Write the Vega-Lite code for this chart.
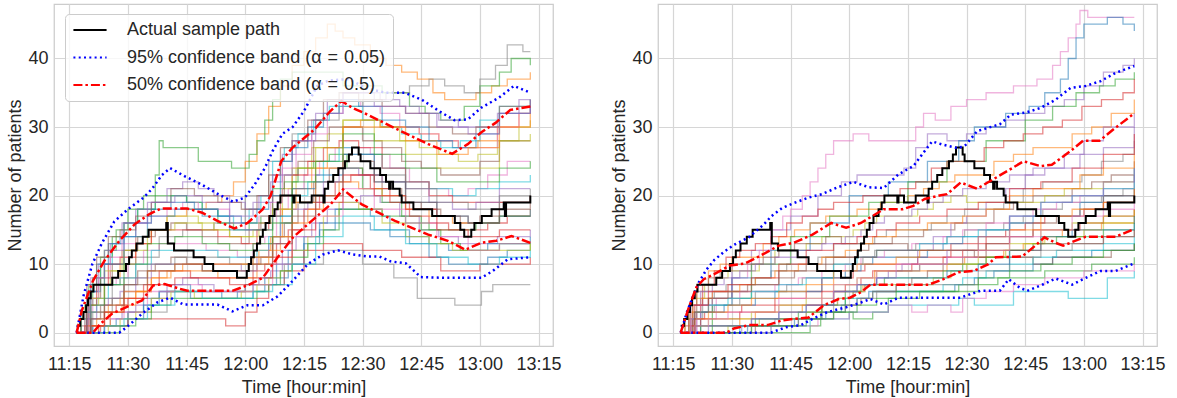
{
"$schema": "https://vega.github.io/schema/vega-lite/v6.json",
"background": "white",
"padding": {"left": 6, "top": 3, "right": 5, "bottom": 4},
"spacing": 48,
"config": {
 "font": "Liberation Sans",
 "view": {"stroke": "#cccccc", "strokeWidth": 1.25},
 "axis": {"labelFont": "Liberation Sans", "labelFontSize": 18, "labelColor": "#262626", "titleFont": "Liberation Sans", "titleFontSize": 18, "titleColor": "#262626", "titleFontWeight": "normal", "gridColor": "#d6d6d6", "gridWidth": 1.2, "domain": false, "ticks": false, "tickSize": 0, "labelPadding": 6},
 "axisX": {"titlePadding": 5, "labelPadding": 9, "labelFlush": false, "labelOverlap": false},
 "axisY": {"titlePadding": 3, "labelFlush": false}
},
"resolve": {"scale": {"color": "independent", "strokeDash": "independent", "stroke": "independent"}, "legend": {"color": "independent", "strokeDash": "independent"}},
"datasets": {
"actual": [
{"s":"act","t":676.9,"v":1},{"s":"act","t":677.8,"v":2},{"s":"act","t":678.6,"v":3},{"s":"act","t":679.3,"v":4},{"s":"act","t":679.8,"v":5},{"s":"act","t":680.5,"v":6},{"s":"act","t":681.2,"v":7},{"s":"act","t":686,"v":8},{"s":"act","t":687.5,"v":9},{"s":"act","t":689.5,"v":10},{"s":"act","t":690.3,"v":11},{"s":"act","t":691,"v":12},{"s":"act","t":692.2,"v":13},{"s":"act","t":693.8,"v":14},{"s":"act","t":695.3,"v":15},{"s":"act","t":699.8,"v":16},{"s":"act","t":700.2,"v":13},{"s":"act","t":701.8,"v":12},{"s":"act","t":706.8,"v":11},{"s":"act","t":709.6,"v":10},{"s":"act","t":711.8,"v":9},{"s":"act","t":717.9,"v":8},{"s":"act","t":720.4,"v":9},{"s":"act","t":720.9,"v":10},{"s":"act","t":721.5,"v":11},{"s":"act","t":722.2,"v":12},{"s":"act","t":723,"v":13},{"s":"act","t":723.8,"v":14},{"s":"act","t":724.5,"v":15},{"s":"act","t":725.2,"v":16},{"s":"act","t":726.2,"v":17},{"s":"act","t":727.5,"v":18},{"s":"act","t":728.3,"v":19},{"s":"act","t":729,"v":20},{"s":"act","t":732.3,"v":19},{"s":"act","t":732.6,"v":20},{"s":"act","t":734,"v":19},{"s":"act","t":737,"v":20},{"s":"act","t":740,"v":19},{"s":"act","t":740.3,"v":21},{"s":"act","t":741.2,"v":22},{"s":"act","t":742.5,"v":23},{"s":"act","t":743.8,"v":24},{"s":"act","t":745.5,"v":25},{"s":"act","t":746.5,"v":26},{"s":"act","t":747.3,"v":27},{"s":"act","t":749,"v":26},{"s":"act","t":749.5,"v":25},{"s":"act","t":752,"v":24},{"s":"act","t":754.5,"v":23},{"s":"act","t":756,"v":22},{"s":"act","t":756.8,"v":21},{"s":"act","t":757.2,"v":22},{"s":"act","t":757.8,"v":21},{"s":"act","t":759.5,"v":20},{"s":"act","t":760,"v":19},{"s":"act","t":763,"v":18},{"s":"act","t":767.8,"v":17},{"s":"act","t":773.6,"v":16},{"s":"act","t":775,"v":15},{"s":"act","t":776,"v":14},{"s":"act","t":777.8,"v":15},{"s":"act","t":778.6,"v":16},{"s":"act","t":780.5,"v":17},{"s":"act","t":783,"v":18},{"s":"act","t":786.1,"v":19},{"s":"act","t":786.4,"v":17},{"s":"act","t":786.7,"v":19},{"s":"act","t":792.9,"v":20}
],
"bands": [
{"g":"L","s":"95","b":"u","t":676.9,"v":0},{"g":"L","s":"95","b":"u","t":678.7,"v":5.5},{"g":"L","s":"95","b":"u","t":680.9,"v":10},{"g":"L","s":"95","b":"u","t":683.3,"v":13},{"g":"L","s":"95","b":"u","t":686.5,"v":16.2},{"g":"L","s":"95","b":"u","t":690,"v":18},{"g":"L","s":"95","b":"u","t":694,"v":19.7},{"g":"L","s":"95","b":"u","t":696.2,"v":21},{"g":"L","s":"95","b":"u","t":698.7,"v":23},{"g":"L","s":"95","b":"u","t":700.8,"v":24},{"g":"L","s":"95","b":"u","t":704.6,"v":22.8},{"g":"L","s":"95","b":"u","t":708.9,"v":21.6},{"g":"L","s":"95","b":"u","t":713.1,"v":20.2},{"g":"L","s":"95","b":"u","t":716.9,"v":19.1},{"g":"L","s":"95","b":"u","t":719.9,"v":19.7},{"g":"L","s":"95","b":"u","t":722.4,"v":21.6},{"g":"L","s":"95","b":"u","t":725,"v":24},{"g":"L","s":"95","b":"u","t":727,"v":26.5},{"g":"L","s":"95","b":"u","t":729.5,"v":29},{"g":"L","s":"95","b":"u","t":732.1,"v":30},{"g":"L","s":"95","b":"u","t":735,"v":32.3},{"g":"L","s":"95","b":"u","t":738.4,"v":36},{"g":"L","s":"95","b":"u","t":741.4,"v":36.8},{"g":"L","s":"95","b":"u","t":746.4,"v":37},{"g":"L","s":"95","b":"u","t":751.3,"v":35.6},{"g":"L","s":"95","b":"u","t":756,"v":35},{"g":"L","s":"95","b":"u","t":760.8,"v":35},{"g":"L","s":"95","b":"u","t":765.1,"v":34},{"g":"L","s":"95","b":"u","t":770.2,"v":32.1},{"g":"L","s":"95","b":"u","t":773.5,"v":31},{"g":"L","s":"95","b":"u","t":776.9,"v":31.1},{"g":"L","s":"95","b":"u","t":780.3,"v":32.8},{"g":"L","s":"95","b":"u","t":784.9,"v":34.3},{"g":"L","s":"95","b":"u","t":788.7,"v":36},{"g":"L","s":"95","b":"u","t":792.9,"v":35},
{"g":"L","s":"95","b":"l","t":676.9,"v":0},{"g":"L","s":"95","b":"l","t":687.8,"v":0},{"g":"L","s":"95","b":"l","t":689.7,"v":0.8},{"g":"L","s":"95","b":"l","t":693.6,"v":2.75},{"g":"L","s":"95","b":"l","t":697.5,"v":4.4},{"g":"L","s":"95","b":"l","t":700.8,"v":5.1},{"g":"L","s":"95","b":"l","t":704.2,"v":4.1},{"g":"L","s":"95","b":"l","t":712.9,"v":4.1},{"g":"L","s":"95","b":"l","t":716.7,"v":3.1},{"g":"L","s":"95","b":"l","t":720.6,"v":4},{"g":"L","s":"95","b":"l","t":724.5,"v":4},{"g":"L","s":"95","b":"l","t":728.3,"v":5.3},{"g":"L","s":"95","b":"l","t":732.2,"v":7.6},{"g":"L","s":"95","b":"l","t":736,"v":10},{"g":"L","s":"95","b":"l","t":739.9,"v":11.4},{"g":"L","s":"95","b":"l","t":743.7,"v":12},{"g":"L","s":"95","b":"l","t":747.6,"v":11.4},{"g":"L","s":"95","b":"l","t":751.4,"v":11.1},{"g":"L","s":"95","b":"l","t":754.3,"v":11.1},{"g":"L","s":"95","b":"l","t":757.2,"v":10.4},{"g":"L","s":"95","b":"l","t":761.1,"v":10.1},{"g":"L","s":"95","b":"l","t":764.9,"v":8.1},{"g":"L","s":"95","b":"l","t":770.7,"v":8},{"g":"L","s":"95","b":"l","t":780.4,"v":8},{"g":"L","s":"95","b":"l","t":783.3,"v":9},{"g":"L","s":"95","b":"l","t":787.1,"v":10.7},{"g":"L","s":"95","b":"l","t":792.9,"v":11},
{"g":"L","s":"50","b":"u","t":676.9,"v":0},{"g":"L","s":"50","b":"u","t":678.2,"v":3.2},{"g":"L","s":"50","b":"u","t":681.1,"v":7.6},{"g":"L","s":"50","b":"u","t":684,"v":10.5},{"g":"L","s":"50","b":"u","t":687.8,"v":13.4},{"g":"L","s":"50","b":"u","t":691.7,"v":15.8},{"g":"L","s":"50","b":"u","t":695.5,"v":17.3},{"g":"L","s":"50","b":"u","t":698.4,"v":18.1},{"g":"L","s":"50","b":"u","t":705.2,"v":18.1},{"g":"L","s":"50","b":"u","t":709,"v":17.5},{"g":"L","s":"50","b":"u","t":712.9,"v":16.3},{"g":"L","s":"50","b":"u","t":717.2,"v":15.2},{"g":"L","s":"50","b":"u","t":720.6,"v":16},{"g":"L","s":"50","b":"u","t":724.5,"v":18},{"g":"L","s":"50","b":"u","t":726.5,"v":20},{"g":"L","s":"50","b":"u","t":729.2,"v":25},{"g":"L","s":"50","b":"u","t":732.1,"v":27},{"g":"L","s":"50","b":"u","t":737.8,"v":29.7},{"g":"L","s":"50","b":"u","t":741.7,"v":32.3},{"g":"L","s":"50","b":"u","t":744.6,"v":33.8},{"g":"L","s":"50","b":"u","t":747.4,"v":32.8},{"g":"L","s":"50","b":"u","t":751.3,"v":31.8},{"g":"L","s":"50","b":"u","t":760.9,"v":29.1},{"g":"L","s":"50","b":"u","t":766.8,"v":27.5},{"g":"L","s":"50","b":"u","t":772.9,"v":26.1},{"g":"L","s":"50","b":"u","t":776.9,"v":27.5},{"g":"L","s":"50","b":"u","t":780.3,"v":29.2},{"g":"L","s":"50","b":"u","t":784,"v":30.6},{"g":"L","s":"50","b":"u","t":787.8,"v":32.5},{"g":"L","s":"50","b":"u","t":792.9,"v":33},
{"g":"L","s":"50","b":"l","t":676.9,"v":0},{"g":"L","s":"50","b":"l","t":681.1,"v":0},{"g":"L","s":"50","b":"l","t":683,"v":1.3},{"g":"L","s":"50","b":"l","t":685.9,"v":2.75},{"g":"L","s":"50","b":"l","t":690.7,"v":4},{"g":"L","s":"50","b":"l","t":693.6,"v":4.7},{"g":"L","s":"50","b":"l","t":696.5,"v":6.9},{"g":"L","s":"50","b":"l","t":699.4,"v":7.1},{"g":"L","s":"50","b":"l","t":703.2,"v":6.4},{"g":"L","s":"50","b":"l","t":705.2,"v":6.1},{"g":"L","s":"50","b":"l","t":716.7,"v":6.1},{"g":"L","s":"50","b":"l","t":720.6,"v":6.9},{"g":"L","s":"50","b":"l","t":724.5,"v":8},{"g":"L","s":"50","b":"l","t":728.3,"v":11},{"g":"L","s":"50","b":"l","t":732.2,"v":13.9},{"g":"L","s":"50","b":"l","t":737,"v":16.3},{"g":"L","s":"50","b":"l","t":741.8,"v":18.7},{"g":"L","s":"50","b":"l","t":745,"v":20.9},{"g":"L","s":"50","b":"l","t":749.8,"v":18.7},{"g":"L","s":"50","b":"l","t":758.3,"v":16.3},{"g":"L","s":"50","b":"l","t":766.8,"v":14.3},{"g":"L","s":"50","b":"l","t":771.8,"v":13.4},{"g":"L","s":"50","b":"l","t":776.3,"v":12.1},{"g":"L","s":"50","b":"l","t":780.3,"v":13.1},{"g":"L","s":"50","b":"l","t":784.2,"v":13.4},{"g":"L","s":"50","b":"l","t":788.1,"v":14.1},{"g":"L","s":"50","b":"l","t":792.9,"v":13.1},
{"g":"R","s":"95","b":"u","t":676.9,"v":0},{"g":"R","s":"95","b":"u","t":678.5,"v":3},{"g":"R","s":"95","b":"u","t":680,"v":5.2},{"g":"R","s":"95","b":"u","t":681.5,"v":7.3},{"g":"R","s":"95","b":"u","t":683.5,"v":9.2},{"g":"R","s":"95","b":"u","t":685.5,"v":10.6},{"g":"R","s":"95","b":"u","t":688,"v":11.8},{"g":"R","s":"95","b":"u","t":690.5,"v":12.8},{"g":"R","s":"95","b":"u","t":694.3,"v":13.9},{"g":"R","s":"95","b":"u","t":698.2,"v":15.8},{"g":"R","s":"95","b":"u","t":700.1,"v":17},{"g":"R","s":"95","b":"u","t":702.9,"v":18.2},{"g":"R","s":"95","b":"u","t":705.8,"v":18.9},{"g":"R","s":"95","b":"u","t":709.6,"v":19.7},{"g":"R","s":"95","b":"u","t":713,"v":20.2},{"g":"R","s":"95","b":"u","t":717,"v":21.2},{"g":"R","s":"95","b":"u","t":721.1,"v":22},{"g":"R","s":"95","b":"u","t":725,"v":21.2},{"g":"R","s":"95","b":"u","t":728.8,"v":21.1},{"g":"R","s":"95","b":"u","t":732.6,"v":23.1},{"g":"R","s":"95","b":"u","t":736.4,"v":24.3},{"g":"R","s":"95","b":"u","t":739.3,"v":26.5},{"g":"R","s":"95","b":"u","t":741.2,"v":27.9},{"g":"R","s":"95","b":"u","t":744.1,"v":27.4},{"g":"R","s":"95","b":"u","t":747.9,"v":26.9},{"g":"R","s":"95","b":"u","t":749.8,"v":27.4},{"g":"R","s":"95","b":"u","t":752.7,"v":29.4},{"g":"R","s":"95","b":"u","t":755.6,"v":29.9},{"g":"R","s":"95","b":"u","t":758.5,"v":30.4},{"g":"R","s":"95","b":"u","t":761.3,"v":31.8},{"g":"R","s":"95","b":"u","t":765.1,"v":32.1},{"g":"R","s":"95","b":"u","t":769,"v":32.8},{"g":"R","s":"95","b":"u","t":772.8,"v":34},{"g":"R","s":"95","b":"u","t":776.6,"v":35.7},{"g":"R","s":"95","b":"u","t":780.5,"v":36},{"g":"R","s":"95","b":"u","t":784.3,"v":36.7},{"g":"R","s":"95","b":"u","t":788.1,"v":37.9},{"g":"R","s":"95","b":"u","t":792.9,"v":38.9},
{"g":"R","s":"95","b":"l","t":676.9,"v":0},{"g":"R","s":"95","b":"l","t":700,"v":0},{"g":"R","s":"95","b":"l","t":703.9,"v":0.8},{"g":"R","s":"95","b":"l","t":707.7,"v":1.1},{"g":"R","s":"95","b":"l","t":710.6,"v":2},{"g":"R","s":"95","b":"l","t":714.4,"v":3},{"g":"R","s":"95","b":"l","t":719.2,"v":3.7},{"g":"R","s":"95","b":"l","t":723,"v":4.4},{"g":"R","s":"95","b":"l","t":725.4,"v":4.9},{"g":"R","s":"95","b":"l","t":728.8,"v":4.1},{"g":"R","s":"95","b":"l","t":732.6,"v":5.1},{"g":"R","s":"95","b":"l","t":748.4,"v":5.1},{"g":"R","s":"95","b":"l","t":753.5,"v":6.1},{"g":"R","s":"95","b":"l","t":758.5,"v":6.1},{"g":"R","s":"95","b":"l","t":760.8,"v":7.8},{"g":"R","s":"95","b":"l","t":763.5,"v":6.6},{"g":"R","s":"95","b":"l","t":765.5,"v":6.1},{"g":"R","s":"95","b":"l","t":769,"v":6.9},{"g":"R","s":"95","b":"l","t":772.8,"v":7.9},{"g":"R","s":"95","b":"l","t":777,"v":7},{"g":"R","s":"95","b":"l","t":780.5,"v":8},{"g":"R","s":"95","b":"l","t":784.3,"v":9},{"g":"R","s":"95","b":"l","t":788.1,"v":9},{"g":"R","s":"95","b":"l","t":792.9,"v":10.1},
{"g":"R","s":"50","b":"u","t":676.9,"v":0},{"g":"R","s":"50","b":"u","t":679,"v":3.7},{"g":"R","s":"50","b":"u","t":680.9,"v":6.6},{"g":"R","s":"50","b":"u","t":682.8,"v":7.8},{"g":"R","s":"50","b":"u","t":685.7,"v":8.6},{"g":"R","s":"50","b":"u","t":689.5,"v":9.8},{"g":"R","s":"50","b":"u","t":693.4,"v":10.1},{"g":"R","s":"50","b":"u","t":697.2,"v":11.2},{"g":"R","s":"50","b":"u","t":702,"v":12.7},{"g":"R","s":"50","b":"u","t":705.8,"v":13.1},{"g":"R","s":"50","b":"u","t":710.6,"v":14.3},{"g":"R","s":"50","b":"u","t":715.4,"v":16},{"g":"R","s":"50","b":"u","t":719.2,"v":15.3},{"g":"R","s":"50","b":"u","t":723,"v":16},{"g":"R","s":"50","b":"u","t":725.9,"v":17},{"g":"R","s":"50","b":"u","t":728.8,"v":18},{"g":"R","s":"50","b":"u","t":733.6,"v":18},{"g":"R","s":"50","b":"u","t":736.4,"v":18.5},{"g":"R","s":"50","b":"u","t":739.3,"v":19.5},{"g":"R","s":"50","b":"u","t":743.1,"v":20},{"g":"R","s":"50","b":"u","t":745,"v":20.2},{"g":"R","s":"50","b":"u","t":748.5,"v":21.9},{"g":"R","s":"50","b":"u","t":752.7,"v":21},{"g":"R","s":"50","b":"u","t":757.5,"v":22.6},{"g":"R","s":"50","b":"u","t":764.6,"v":25},{"g":"R","s":"50","b":"u","t":768.9,"v":24.3},{"g":"R","s":"50","b":"u","t":771.8,"v":24.5},{"g":"R","s":"50","b":"u","t":776.6,"v":26.5},{"g":"R","s":"50","b":"u","t":779.8,"v":28},{"g":"R","s":"50","b":"u","t":784,"v":28},{"g":"R","s":"50","b":"u","t":788.1,"v":29.9},{"g":"R","s":"50","b":"u","t":792.9,"v":32},
{"g":"R","s":"50","b":"l","t":676.9,"v":0},{"g":"R","s":"50","b":"l","t":688.6,"v":0},{"g":"R","s":"50","b":"l","t":690.5,"v":0.6},{"g":"R","s":"50","b":"l","t":694.3,"v":1.1},{"g":"R","s":"50","b":"l","t":699.1,"v":1.1},{"g":"R","s":"50","b":"l","t":702.9,"v":1.8},{"g":"R","s":"50","b":"l","t":705.8,"v":2},{"g":"R","s":"50","b":"l","t":709.6,"v":2.2},{"g":"R","s":"50","b":"l","t":713.5,"v":4},{"g":"R","s":"50","b":"l","t":717.3,"v":4.9},{"g":"R","s":"50","b":"l","t":720.2,"v":5.1},{"g":"R","s":"50","b":"l","t":723,"v":5.9},{"g":"R","s":"50","b":"l","t":725.4,"v":7},{"g":"R","s":"50","b":"l","t":740.3,"v":7},{"g":"R","s":"50","b":"l","t":744.1,"v":7.8},{"g":"R","s":"50","b":"l","t":747.9,"v":8.8},{"g":"R","s":"50","b":"l","t":751.8,"v":9},{"g":"R","s":"50","b":"l","t":755.6,"v":10},{"g":"R","s":"50","b":"l","t":757.5,"v":11},{"g":"R","s":"50","b":"l","t":764.2,"v":11.1},{"g":"R","s":"50","b":"l","t":768,"v":12.9},{"g":"R","s":"50","b":"l","t":769.9,"v":13.9},{"g":"R","s":"50","b":"l","t":772.8,"v":13.1},{"g":"R","s":"50","b":"l","t":774.7,"v":12.7},{"g":"R","s":"50","b":"l","t":780.5,"v":14},{"g":"R","s":"50","b":"l","t":788.1,"v":14},{"g":"R","s":"50","b":"l","t":792.9,"v":15.1}
],
"paths": [
{"p":"L00","t":676.9,"v":0},{"p":"L00","t":684,"v":1},{"p":"L00","t":690,"v":2},{"p":"L00","t":694,"v":4},{"p":"L00","t":698,"v":6},{"p":"L00","t":706,"v":5},{"p":"L00","t":722,"v":6},{"p":"L00","t":725,"v":7},{"p":"L00","t":728,"v":8},{"p":"L00","t":731,"v":10},{"p":"L00","t":735,"v":13},{"p":"L00","t":739,"v":15},{"p":"L00","t":743,"v":16},{"p":"L00","t":752,"v":15},{"p":"L00","t":757,"v":14},{"p":"L00","t":762,"v":13},{"p":"L00","t":767,"v":11},{"p":"L00","t":772,"v":10},{"p":"L00","t":782,"v":11},{"p":"L00","t":787,"v":12},{"p":"L00","t":792.9,"v":12},
{"p":"L01","t":676.9,"v":0},{"p":"L01","t":680,"v":3},{"p":"L01","t":684,"v":7},{"p":"L01","t":688,"v":10},{"p":"L01","t":692,"v":13},{"p":"L01","t":696,"v":15},{"p":"L01","t":700,"v":17},{"p":"L01","t":705,"v":18},{"p":"L01","t":710,"v":19},{"p":"L01","t":714,"v":20},{"p":"L01","t":717,"v":22},{"p":"L01","t":720,"v":25},{"p":"L01","t":723,"v":29},{"p":"L01","t":726,"v":33},{"p":"L01","t":729,"v":36},{"p":"L01","t":732,"v":39},{"p":"L01","t":735,"v":41},{"p":"L01","t":738,"v":43},{"p":"L01","t":741,"v":45},{"p":"L01","t":743,"v":44},{"p":"L01","t":745,"v":43},{"p":"L01","t":748,"v":42},{"p":"L01","t":752,"v":40},{"p":"L01","t":756,"v":39},{"p":"L01","t":760,"v":38},{"p":"L01","t":764,"v":37},{"p":"L01","t":768,"v":35},{"p":"L01","t":771,"v":34},{"p":"L01","t":779,"v":35},{"p":"L01","t":783,"v":36},{"p":"L01","t":787,"v":37},{"p":"L01","t":792.9,"v":38},
{"p":"L02","t":676.9,"v":0},{"p":"L02","t":679,"v":4},{"p":"L02","t":681,"v":8},{"p":"L02","t":684,"v":12},{"p":"L02","t":687,"v":15},{"p":"L02","t":690,"v":18},{"p":"L02","t":694,"v":20},{"p":"L02","t":697,"v":23},{"p":"L02","t":698,"v":28},{"p":"L02","t":699,"v":27},{"p":"L02","t":708,"v":25},{"p":"L02","t":716.5,"v":24},{"p":"L02","t":721,"v":26},{"p":"L02","t":723,"v":28},{"p":"L02","t":725,"v":31},{"p":"L02","t":727,"v":34},{"p":"L02","t":729,"v":37},{"p":"L02","t":732,"v":38},{"p":"L02","t":745,"v":36},{"p":"L02","t":755,"v":35},{"p":"L02","t":762,"v":33},{"p":"L02","t":766,"v":32},{"p":"L02","t":770,"v":31},{"p":"L02","t":776,"v":33},{"p":"L02","t":780,"v":36},{"p":"L02","t":785,"v":38},{"p":"L02","t":788,"v":40},{"p":"L02","t":792.9,"v":39},
{"p":"L03","t":676.9,"v":0},{"p":"L03","t":683,"v":1},{"p":"L03","t":690,"v":2},{"p":"L03","t":715,"v":1},{"p":"L03","t":720,"v":3},{"p":"L03","t":723,"v":5},{"p":"L03","t":726,"v":7},{"p":"L03","t":730,"v":9},{"p":"L03","t":735,"v":12},{"p":"L03","t":740,"v":13},{"p":"L03","t":750,"v":12},{"p":"L03","t":760,"v":11},{"p":"L03","t":770,"v":9},{"p":"L03","t":780,"v":10},{"p":"L03","t":792.9,"v":11},
{"p":"L04","t":676.9,"v":0},{"p":"L04","t":682.5,"v":1},{"p":"L04","t":685.5,"v":2},{"p":"L04","t":688.5,"v":3},{"p":"L04","t":692,"v":4},{"p":"L04","t":696,"v":5},{"p":"L04","t":700,"v":7},{"p":"L04","t":704,"v":8},{"p":"L04","t":708,"v":7},{"p":"L04","t":712,"v":6},{"p":"L04","t":720,"v":7},{"p":"L04","t":723.5,"v":8},{"p":"L04","t":726.5,"v":9},{"p":"L04","t":729.5,"v":12},{"p":"L04","t":733,"v":14},{"p":"L04","t":737,"v":16},{"p":"L04","t":741,"v":18},{"p":"L04","t":745,"v":19},{"p":"L04","t":749.5,"v":20},{"p":"L04","t":754.5,"v":19},{"p":"L04","t":759.5,"v":17},{"p":"L04","t":764.5,"v":15},{"p":"L04","t":769.5,"v":14},{"p":"L04","t":774.5,"v":13},{"p":"L04","t":784.5,"v":14},{"p":"L04","t":792.9,"v":15},
{"p":"L05","t":676.9,"v":0},{"p":"L05","t":678,"v":1},{"p":"L05","t":680,"v":2},{"p":"L05","t":683,"v":4},{"p":"L05","t":686,"v":5},{"p":"L05","t":689,"v":7},{"p":"L05","t":692.5,"v":9},{"p":"L05","t":697,"v":10},{"p":"L05","t":701,"v":11},{"p":"L05","t":705,"v":10},{"p":"L05","t":709,"v":9},{"p":"L05","t":721,"v":10},{"p":"L05","t":724,"v":11},{"p":"L05","t":727,"v":14},{"p":"L05","t":730,"v":16},{"p":"L05","t":733.5,"v":19},{"p":"L05","t":737.5,"v":22},{"p":"L05","t":741.5,"v":24},{"p":"L05","t":750,"v":23},{"p":"L05","t":755,"v":21},{"p":"L05","t":760,"v":19},{"p":"L05","t":765,"v":18},{"p":"L05","t":770,"v":17},{"p":"L05","t":775,"v":16},{"p":"L05","t":780,"v":17},{"p":"L05","t":785,"v":19},{"p":"L05","t":792.9,"v":19},
{"p":"L06","t":676.9,"v":0},{"p":"L06","t":679,"v":3},{"p":"L06","t":681,"v":5},{"p":"L06","t":684,"v":7},{"p":"L06","t":687,"v":8},{"p":"L06","t":690,"v":10},{"p":"L06","t":694,"v":12},{"p":"L06","t":698,"v":13},{"p":"L06","t":710,"v":12},{"p":"L06","t":718,"v":11},{"p":"L06","t":722,"v":13},{"p":"L06","t":725,"v":14},{"p":"L06","t":728,"v":18},{"p":"L06","t":731,"v":21},{"p":"L06","t":735,"v":23},{"p":"L06","t":739,"v":25},{"p":"L06","t":743,"v":27},{"p":"L06","t":752,"v":26},{"p":"L06","t":757,"v":24},{"p":"L06","t":762,"v":22},{"p":"L06","t":767,"v":21},{"p":"L06","t":772,"v":20},{"p":"L06","t":777,"v":21},{"p":"L06","t":782,"v":23},{"p":"L06","t":787,"v":25},{"p":"L06","t":792.9,"v":25},
{"p":"L07","t":676.9,"v":0},{"p":"L07","t":681,"v":3},{"p":"L07","t":686,"v":7},{"p":"L07","t":692,"v":11},{"p":"L07","t":698,"v":14},{"p":"L07","t":704,"v":15},{"p":"L07","t":712,"v":16},{"p":"L07","t":720,"v":20},{"p":"L07","t":726,"v":25},{"p":"L07","t":732,"v":29},{"p":"L07","t":738,"v":31},{"p":"L07","t":744,"v":33},{"p":"L07","t":750,"v":34},{"p":"L07","t":756,"v":35},{"p":"L07","t":762,"v":36},{"p":"L07","t":767,"v":37},{"p":"L07","t":771,"v":36},{"p":"L07","t":776,"v":35},{"p":"L07","t":780,"v":37},{"p":"L07","t":784,"v":39},{"p":"L07","t":787,"v":42},{"p":"L07","t":791,"v":41},{"p":"L07","t":792.9,"v":41},
{"p":"L08","t":676.9,"v":0},{"p":"L08","t":680,"v":4},{"p":"L08","t":682.5,"v":7},{"p":"L08","t":685.5,"v":9},{"p":"L08","t":688.5,"v":12},{"p":"L08","t":692,"v":14},{"p":"L08","t":696,"v":15},{"p":"L08","t":700,"v":17},{"p":"L08","t":708,"v":16},{"p":"L08","t":712,"v":15},{"p":"L08","t":716,"v":14},{"p":"L08","t":723.5,"v":16},{"p":"L08","t":726.5,"v":17},{"p":"L08","t":729.5,"v":21},{"p":"L08","t":733,"v":24},{"p":"L08","t":737,"v":27},{"p":"L08","t":741,"v":29},{"p":"L08","t":745,"v":31},{"p":"L08","t":754.5,"v":30},{"p":"L08","t":759.5,"v":28},{"p":"L08","t":764.5,"v":27},{"p":"L08","t":769.5,"v":26},{"p":"L08","t":774.5,"v":25},{"p":"L08","t":779.5,"v":26},{"p":"L08","t":784.5,"v":28},{"p":"L08","t":790,"v":30},{"p":"L08","t":792.9,"v":31},
{"p":"L09","t":676.9,"v":0},{"p":"L09","t":678,"v":2},{"p":"L09","t":680,"v":6},{"p":"L09","t":683,"v":10},{"p":"L09","t":686,"v":13},{"p":"L09","t":689,"v":16},{"p":"L09","t":692.5,"v":18},{"p":"L09","t":697,"v":19},{"p":"L09","t":701,"v":20},{"p":"L09","t":705,"v":19},{"p":"L09","t":709,"v":18},{"p":"L09","t":713,"v":17},{"p":"L09","t":717,"v":16},{"p":"L09","t":721,"v":18},{"p":"L09","t":724,"v":20},{"p":"L09","t":727,"v":25},{"p":"L09","t":730,"v":27},{"p":"L09","t":733.5,"v":29},{"p":"L09","t":737.5,"v":31},{"p":"L09","t":741.5,"v":33},{"p":"L09","t":750,"v":31},{"p":"L09","t":755,"v":30},{"p":"L09","t":760,"v":29},{"p":"L09","t":765,"v":28},{"p":"L09","t":770,"v":27},{"p":"L09","t":775,"v":28},{"p":"L09","t":780,"v":31},{"p":"L09","t":785,"v":33},{"p":"L09","t":792.9,"v":34},
{"p":"L10","t":676.9,"v":0},{"p":"L10","t":681,"v":1},{"p":"L10","t":687,"v":2},{"p":"L10","t":690,"v":3},{"p":"L10","t":694,"v":5},{"p":"L10","t":698,"v":6},{"p":"L10","t":702,"v":7},{"p":"L10","t":706,"v":6},{"p":"L10","t":714,"v":5},{"p":"L10","t":718,"v":6},{"p":"L10","t":722,"v":7},{"p":"L10","t":725,"v":8},{"p":"L10","t":728,"v":10},{"p":"L10","t":731,"v":12},{"p":"L10","t":735,"v":14},{"p":"L10","t":739,"v":16},{"p":"L10","t":743,"v":18},{"p":"L10","t":752,"v":17},{"p":"L10","t":757,"v":15},{"p":"L10","t":762,"v":14},{"p":"L10","t":767,"v":13},{"p":"L10","t":772,"v":12},{"p":"L10","t":782,"v":13},{"p":"L10","t":792.9,"v":14},
{"p":"L11","t":676.9,"v":0},{"p":"L11","t":682.5,"v":1},{"p":"L11","t":685.5,"v":3},{"p":"L11","t":688.5,"v":4},{"p":"L11","t":692,"v":6},{"p":"L11","t":696,"v":8},{"p":"L11","t":700,"v":9},{"p":"L11","t":704,"v":10},{"p":"L11","t":723.5,"v":12},{"p":"L11","t":726.5,"v":14},{"p":"L11","t":729.5,"v":18},{"p":"L11","t":733,"v":21},{"p":"L11","t":737,"v":24},{"p":"L11","t":741,"v":27},{"p":"L11","t":745,"v":30},{"p":"L11","t":749.5,"v":31},{"p":"L11","t":754.5,"v":30},{"p":"L11","t":764.5,"v":29},{"p":"L11","t":769.5,"v":28},{"p":"L11","t":774.5,"v":27},{"p":"L11","t":779.5,"v":28},{"p":"L11","t":784.5,"v":30},{"p":"L11","t":790,"v":32},{"p":"L11","t":792.9,"v":33},
{"p":"L12","t":676.9,"v":0},{"p":"L12","t":678,"v":3},{"p":"L12","t":680,"v":7},{"p":"L12","t":683,"v":11},{"p":"L12","t":686,"v":14},{"p":"L12","t":689,"v":16},{"p":"L12","t":692.5,"v":18},{"p":"L12","t":697,"v":20},{"p":"L12","t":705,"v":19},{"p":"L12","t":709,"v":18},{"p":"L12","t":713,"v":16},{"p":"L12","t":717,"v":15},{"p":"L12","t":721,"v":16},{"p":"L12","t":724,"v":17},{"p":"L12","t":727,"v":21},{"p":"L12","t":730,"v":22},{"p":"L12","t":733.5,"v":24},{"p":"L12","t":737.5,"v":25},{"p":"L12","t":741.5,"v":26},{"p":"L12","t":746,"v":24},{"p":"L12","t":750,"v":21},{"p":"L12","t":755,"v":19},{"p":"L12","t":760,"v":17},{"p":"L12","t":765,"v":15},{"p":"L12","t":770,"v":13},{"p":"L12","t":775,"v":12},{"p":"L12","t":785,"v":13},{"p":"L12","t":792.9,"v":12},
{"p":"L13","t":676.9,"v":0},{"p":"L13","t":679,"v":1},{"p":"L13","t":684,"v":3},{"p":"L13","t":687,"v":4},{"p":"L13","t":690,"v":5},{"p":"L13","t":694,"v":7},{"p":"L13","t":698,"v":9},{"p":"L13","t":706,"v":8},{"p":"L13","t":722,"v":9},{"p":"L13","t":725,"v":10},{"p":"L13","t":728,"v":13},{"p":"L13","t":731,"v":15},{"p":"L13","t":735,"v":18},{"p":"L13","t":739,"v":20},{"p":"L13","t":743,"v":22},{"p":"L13","t":747,"v":23},{"p":"L13","t":752,"v":21},{"p":"L13","t":757,"v":19},{"p":"L13","t":762,"v":17},{"p":"L13","t":767,"v":16},{"p":"L13","t":772,"v":15},{"p":"L13","t":782,"v":16},{"p":"L13","t":787,"v":17},{"p":"L13","t":792.9,"v":17},
{"p":"L14","t":676.9,"v":0},{"p":"L14","t":680,"v":6},{"p":"L14","t":682.5,"v":10},{"p":"L14","t":685.5,"v":13},{"p":"L14","t":688.5,"v":16},{"p":"L14","t":692,"v":18},{"p":"L14","t":696,"v":19},{"p":"L14","t":700,"v":21},{"p":"L14","t":704,"v":22},{"p":"L14","t":708,"v":21},{"p":"L14","t":712,"v":20},{"p":"L14","t":716,"v":19},{"p":"L14","t":720,"v":18},{"p":"L14","t":723.5,"v":20},{"p":"L14","t":726.5,"v":22},{"p":"L14","t":729.5,"v":26},{"p":"L14","t":733,"v":28},{"p":"L14","t":737,"v":31},{"p":"L14","t":741,"v":34},{"p":"L14","t":745,"v":35},{"p":"L14","t":754.5,"v":34},{"p":"L14","t":759.5,"v":33},{"p":"L14","t":764.5,"v":32},{"p":"L14","t":769.5,"v":31},{"p":"L14","t":774.5,"v":30},{"p":"L14","t":784.5,"v":32},{"p":"L14","t":790,"v":34},{"p":"L14","t":792.9,"v":34},
{"p":"L15","t":676.9,"v":0},{"p":"L15","t":678,"v":2},{"p":"L15","t":680,"v":5},{"p":"L15","t":683,"v":8},{"p":"L15","t":686,"v":10},{"p":"L15","t":689,"v":12},{"p":"L15","t":692.5,"v":14},{"p":"L15","t":697,"v":15},{"p":"L15","t":701,"v":16},{"p":"L15","t":705,"v":15},{"p":"L15","t":709,"v":14},{"p":"L15","t":713,"v":13},{"p":"L15","t":721,"v":15},{"p":"L15","t":724,"v":16},{"p":"L15","t":727,"v":20},{"p":"L15","t":730,"v":23},{"p":"L15","t":733.5,"v":25},{"p":"L15","t":737.5,"v":28},{"p":"L15","t":741.5,"v":30},{"p":"L15","t":750,"v":28},{"p":"L15","t":755,"v":27},{"p":"L15","t":760,"v":25},{"p":"L15","t":765,"v":24},{"p":"L15","t":770,"v":23},{"p":"L15","t":780,"v":25},{"p":"L15","t":785,"v":28},{"p":"L15","t":792.9,"v":28},
{"p":"L16","t":676.9,"v":0},{"p":"L16","t":680,"v":5},{"p":"L16","t":682.5,"v":8},{"p":"L16","t":685.5,"v":11},{"p":"L16","t":688.5,"v":13},{"p":"L16","t":692,"v":16},{"p":"L16","t":696,"v":17},{"p":"L16","t":700,"v":18},{"p":"L16","t":704,"v":19},{"p":"L16","t":708,"v":18},{"p":"L16","t":716,"v":16},{"p":"L16","t":720,"v":15},{"p":"L16","t":723.5,"v":17},{"p":"L16","t":726.5,"v":19},{"p":"L16","t":729.5,"v":24},{"p":"L16","t":733,"v":26},{"p":"L16","t":737,"v":29},{"p":"L16","t":741,"v":32},{"p":"L16","t":745,"v":34},{"p":"L16","t":749.5,"v":33},{"p":"L16","t":754.5,"v":32},{"p":"L16","t":759.5,"v":30},{"p":"L16","t":764.5,"v":29},{"p":"L16","t":769.5,"v":28},{"p":"L16","t":774.5,"v":27},{"p":"L16","t":784.5,"v":30},{"p":"L16","t":790,"v":32},{"p":"L16","t":792.9,"v":33},
{"p":"L17","t":676.9,"v":0},{"p":"L17","t":684,"v":1},{"p":"L17","t":690,"v":3},{"p":"L17","t":700,"v":6},{"p":"L17","t":712,"v":6},{"p":"L17","t":720,"v":7},{"p":"L17","t":730,"v":10},{"p":"L17","t":740,"v":12},{"p":"L17","t":750,"v":10},{"p":"L17","t":758,"v":8},{"p":"L17","t":764,"v":5},{"p":"L17","t":773.6,"v":4},{"p":"L17","t":780.4,"v":6},{"p":"L17","t":783.3,"v":7},{"p":"L17","t":792.9,"v":7},
{"p":"L18","t":676.9,"v":0},{"p":"L18","t":685,"v":1},{"p":"L18","t":688,"v":2},{"p":"L18","t":692,"v":3},{"p":"L18","t":696,"v":5},{"p":"L18","t":701,"v":6},{"p":"L18","t":707,"v":5},{"p":"L18","t":719,"v":6},{"p":"L18","t":723,"v":7},{"p":"L18","t":726,"v":8},{"p":"L18","t":729,"v":9},{"p":"L18","t":732,"v":12},{"p":"L18","t":736,"v":14},{"p":"L18","t":740,"v":17},{"p":"L18","t":744,"v":19},{"p":"L18","t":749,"v":18},{"p":"L18","t":755,"v":16},{"p":"L18","t":761,"v":14},{"p":"L18","t":767,"v":13},{"p":"L18","t":773,"v":12},{"p":"L18","t":792.9,"v":13},
{"p":"L19","t":676.9,"v":0},{"p":"L19","t":679.5,"v":3},{"p":"L19","t":682,"v":5},{"p":"L19","t":685,"v":7},{"p":"L19","t":688,"v":8},{"p":"L19","t":692,"v":10},{"p":"L19","t":696,"v":12},{"p":"L19","t":713,"v":11},{"p":"L19","t":723,"v":12},{"p":"L19","t":726,"v":14},{"p":"L19","t":729,"v":17},{"p":"L19","t":732,"v":20},{"p":"L19","t":736,"v":22},{"p":"L19","t":740,"v":25},{"p":"L19","t":744,"v":27},{"p":"L19","t":749,"v":26},{"p":"L19","t":755,"v":24},{"p":"L19","t":761,"v":22},{"p":"L19","t":767,"v":21},{"p":"L19","t":773,"v":20},{"p":"L19","t":779,"v":21},{"p":"L19","t":785,"v":22},{"p":"L19","t":792.9,"v":23},
{"p":"L20","t":676.9,"v":0},{"p":"L20","t":679.5,"v":6},{"p":"L20","t":682,"v":10},{"p":"L20","t":685,"v":13},{"p":"L20","t":688,"v":14},{"p":"L20","t":692,"v":16},{"p":"L20","t":696,"v":18},{"p":"L20","t":701,"v":19},{"p":"L20","t":707,"v":18},{"p":"L20","t":713,"v":17},{"p":"L20","t":719,"v":16},{"p":"L20","t":723,"v":18},{"p":"L20","t":726,"v":20},{"p":"L20","t":729,"v":25},{"p":"L20","t":732,"v":27},{"p":"L20","t":736,"v":30},{"p":"L20","t":740,"v":32},{"p":"L20","t":744,"v":34},{"p":"L20","t":749,"v":33},{"p":"L20","t":755,"v":31},{"p":"L20","t":761,"v":30},{"p":"L20","t":767,"v":28},{"p":"L20","t":773,"v":27},{"p":"L20","t":779,"v":29},{"p":"L20","t":785,"v":32},{"p":"L20","t":792.9,"v":33},
{"p":"L21","t":676.9,"v":0},{"p":"L21","t":679.5,"v":1},{"p":"L21","t":682,"v":2},{"p":"L21","t":685,"v":4},{"p":"L21","t":688,"v":5},{"p":"L21","t":692,"v":6},{"p":"L21","t":696,"v":8},{"p":"L21","t":701,"v":9},{"p":"L21","t":713,"v":8},{"p":"L21","t":723,"v":10},{"p":"L21","t":726,"v":12},{"p":"L21","t":729,"v":14},{"p":"L21","t":732,"v":16},{"p":"L21","t":736,"v":18},{"p":"L21","t":740,"v":20},{"p":"L21","t":744,"v":22},{"p":"L21","t":749,"v":21},{"p":"L21","t":755,"v":20},{"p":"L21","t":761,"v":18},{"p":"L21","t":767,"v":17},{"p":"L21","t":773,"v":16},{"p":"L21","t":785,"v":17},{"p":"L21","t":792.9,"v":18},
{"p":"L22","t":676.9,"v":0},{"p":"L22","t":688,"v":1},{"p":"L22","t":692,"v":2},{"p":"L22","t":696,"v":4},{"p":"L22","t":701,"v":5},{"p":"L22","t":723,"v":6},{"p":"L22","t":726,"v":7},{"p":"L22","t":729,"v":9},{"p":"L22","t":732,"v":11},{"p":"L22","t":736,"v":13},{"p":"L22","t":740,"v":15},{"p":"L22","t":744,"v":18},{"p":"L22","t":755,"v":17},{"p":"L22","t":761,"v":16},{"p":"L22","t":767,"v":15},{"p":"L22","t":779,"v":16},{"p":"L22","t":785,"v":17},{"p":"L22","t":792.9,"v":17},
{"p":"L23","t":676.9,"v":0},{"p":"L23","t":679.5,"v":4},{"p":"L23","t":682,"v":7},{"p":"L23","t":685,"v":10},{"p":"L23","t":688,"v":11},{"p":"L23","t":692,"v":13},{"p":"L23","t":696,"v":15},{"p":"L23","t":713,"v":14},{"p":"L23","t":719,"v":13},{"p":"L23","t":723,"v":15},{"p":"L23","t":726,"v":17},{"p":"L23","t":729,"v":20},{"p":"L23","t":732,"v":23},{"p":"L23","t":736,"v":25},{"p":"L23","t":740,"v":27},{"p":"L23","t":744,"v":28},{"p":"L23","t":749,"v":27},{"p":"L23","t":755,"v":24},{"p":"L23","t":761,"v":22},{"p":"L23","t":767,"v":20},{"p":"L23","t":773,"v":19},{"p":"L23","t":792.9,"v":20},
{"p":"L24","t":676.9,"v":0},{"p":"L24","t":679.5,"v":2},{"p":"L24","t":682,"v":4},{"p":"L24","t":685,"v":5},{"p":"L24","t":688,"v":6},{"p":"L24","t":692,"v":8},{"p":"L24","t":696,"v":10},{"p":"L24","t":719,"v":9},{"p":"L24","t":723,"v":11},{"p":"L24","t":726,"v":13},{"p":"L24","t":729,"v":16},{"p":"L24","t":732,"v":18},{"p":"L24","t":736,"v":19},{"p":"L24","t":740,"v":22},{"p":"L24","t":744,"v":24},{"p":"L24","t":749,"v":23},{"p":"L24","t":755,"v":22},{"p":"L24","t":761,"v":21},{"p":"L24","t":767,"v":19},{"p":"L24","t":773,"v":18},{"p":"L24","t":779,"v":19},{"p":"L24","t":785,"v":21},{"p":"L24","t":792.9,"v":21},
{"p":"L25","t":676.9,"v":0},{"p":"L25","t":679.5,"v":7},{"p":"L25","t":682,"v":11},{"p":"L25","t":685,"v":14},{"p":"L25","t":688,"v":15},{"p":"L25","t":692,"v":17},{"p":"L25","t":696,"v":19},{"p":"L25","t":701,"v":21},{"p":"L25","t":707,"v":20},{"p":"L25","t":713,"v":19},{"p":"L25","t":719,"v":18},{"p":"L25","t":723,"v":20},{"p":"L25","t":726,"v":23},{"p":"L25","t":729,"v":27},{"p":"L25","t":732,"v":28},{"p":"L25","t":736,"v":31},{"p":"L25","t":740,"v":34},{"p":"L25","t":744,"v":35},{"p":"L25","t":749,"v":34},{"p":"L25","t":755,"v":33},{"p":"L25","t":761,"v":32},{"p":"L25","t":767,"v":30},{"p":"L25","t":773,"v":29},{"p":"L25","t":779,"v":30},{"p":"L25","t":785,"v":33},{"p":"L25","t":792.9,"v":34},
{"p":"L26","t":676.9,"v":0},{"p":"L26","t":684,"v":2},{"p":"L26","t":689,"v":3},{"p":"L26","t":695,"v":6},{"p":"L26","t":702,"v":7},{"p":"L26","t":709,"v":6},{"p":"L26","t":722,"v":7},{"p":"L26","t":727,"v":10},{"p":"L26","t":732,"v":14},{"p":"L26","t":738,"v":17},{"p":"L26","t":745,"v":21},{"p":"L26","t":753,"v":18},{"p":"L26","t":761,"v":16},{"p":"L26","t":769,"v":14},{"p":"L26","t":777,"v":12},{"p":"L26","t":785,"v":13},{"p":"L26","t":792.9,"v":13},
{"p":"L27","t":676.9,"v":0},{"p":"L27","t":680.5,"v":3},{"p":"L27","t":684,"v":5},{"p":"L27","t":689,"v":8},{"p":"L27","t":695,"v":10},{"p":"L27","t":702,"v":11},{"p":"L27","t":716,"v":10},{"p":"L27","t":722,"v":11},{"p":"L27","t":727,"v":14},{"p":"L27","t":732,"v":19},{"p":"L27","t":738,"v":22},{"p":"L27","t":745,"v":26},{"p":"L27","t":753,"v":23},{"p":"L27","t":761,"v":21},{"p":"L27","t":769,"v":19},{"p":"L27","t":777,"v":18},{"p":"L27","t":785,"v":20},{"p":"L27","t":792.9,"v":21},
{"p":"L28","t":676.9,"v":0},{"p":"L28","t":680.5,"v":5},{"p":"L28","t":684,"v":9},{"p":"L28","t":689,"v":12},{"p":"L28","t":695,"v":15},{"p":"L28","t":702,"v":16},{"p":"L28","t":709,"v":15},{"p":"L28","t":716,"v":14},{"p":"L28","t":722,"v":15},{"p":"L28","t":727,"v":18},{"p":"L28","t":732,"v":24},{"p":"L28","t":738,"v":27},{"p":"L28","t":745,"v":31},{"p":"L28","t":753,"v":28},{"p":"L28","t":761,"v":26},{"p":"L28","t":769,"v":24},{"p":"L28","t":785,"v":28},{"p":"L28","t":792.9,"v":29},
{"p":"L29","t":676.9,"v":0},{"p":"L29","t":684,"v":1},{"p":"L29","t":689,"v":2},{"p":"L29","t":695,"v":4},{"p":"L29","t":702,"v":6},{"p":"L29","t":709,"v":5},{"p":"L29","t":722,"v":6},{"p":"L29","t":727,"v":7},{"p":"L29","t":732,"v":10},{"p":"L29","t":738,"v":14},{"p":"L29","t":745,"v":17},{"p":"L29","t":753,"v":15},{"p":"L29","t":761,"v":13},{"p":"L29","t":769,"v":11},{"p":"L29","t":777,"v":10},{"p":"L29","t":785,"v":11},{"p":"L29","t":792.9,"v":12},
{"p":"L30","t":676.9,"v":0},{"p":"L30","t":680.5,"v":7},{"p":"L30","t":684,"v":10},{"p":"L30","t":689,"v":14},{"p":"L30","t":695,"v":17},{"p":"L30","t":702,"v":18},{"p":"L30","t":709,"v":17},{"p":"L30","t":716,"v":15},{"p":"L30","t":727,"v":17},{"p":"L30","t":732,"v":21},{"p":"L30","t":738,"v":23},{"p":"L30","t":745,"v":26},{"p":"L30","t":753,"v":22},{"p":"L30","t":761,"v":19},{"p":"L30","t":769,"v":17},{"p":"L30","t":777,"v":16},{"p":"L30","t":785,"v":17},{"p":"L30","t":792.9,"v":18},
{"p":"L31","t":676.9,"v":0},{"p":"L31","t":680.5,"v":1},{"p":"L31","t":684,"v":3},{"p":"L31","t":689,"v":6},{"p":"L31","t":695,"v":9},{"p":"L31","t":702,"v":10},{"p":"L31","t":722,"v":11},{"p":"L31","t":727,"v":14},{"p":"L31","t":732,"v":19},{"p":"L31","t":738,"v":24},{"p":"L31","t":745,"v":30},{"p":"L31","t":761,"v":28},{"p":"L31","t":769,"v":26},{"p":"L31","t":777,"v":27},{"p":"L31","t":785,"v":30},{"p":"L31","t":792.9,"v":32},
{"p":"L32","t":676.9,"v":0},{"p":"L32","t":680.5,"v":4},{"p":"L32","t":684,"v":7},{"p":"L32","t":689,"v":10},{"p":"L32","t":695,"v":13},{"p":"L32","t":702,"v":14},{"p":"L32","t":709,"v":13},{"p":"L32","t":716,"v":12},{"p":"L32","t":722,"v":13},{"p":"L32","t":727,"v":16},{"p":"L32","t":732,"v":22},{"p":"L32","t":738,"v":25},{"p":"L32","t":745,"v":29},{"p":"L32","t":753,"v":26},{"p":"L32","t":761,"v":24},{"p":"L32","t":769,"v":22},{"p":"L32","t":785,"v":24},{"p":"L32","t":792.9,"v":25},
{"p":"L33","t":676.9,"v":0},{"p":"L33","t":680.5,"v":1},{"p":"L33","t":684,"v":3},{"p":"L33","t":689,"v":5},{"p":"L33","t":695,"v":7},{"p":"L33","t":702,"v":8},{"p":"L33","t":716,"v":7},{"p":"L33","t":722,"v":8},{"p":"L33","t":727,"v":11},{"p":"L33","t":732,"v":15},{"p":"L33","t":738,"v":19},{"p":"L33","t":745,"v":23},{"p":"L33","t":753,"v":20},{"p":"L33","t":761,"v":18},{"p":"L33","t":769,"v":15},{"p":"L33","t":777,"v":14},{"p":"L33","t":785,"v":15},{"p":"L33","t":792.9,"v":15},
{"p":"L34","t":676.9,"v":0},{"p":"L34","t":680.5,"v":8},{"p":"L34","t":684,"v":12},{"p":"L34","t":689,"v":16},{"p":"L34","t":695,"v":19},{"p":"L34","t":702,"v":20},{"p":"L34","t":709,"v":19},{"p":"L34","t":716,"v":17},{"p":"L34","t":722,"v":19},{"p":"L34","t":727,"v":23},{"p":"L34","t":732,"v":28},{"p":"L34","t":738,"v":32},{"p":"L34","t":745,"v":35},{"p":"L34","t":753,"v":33},{"p":"L34","t":761,"v":32},{"p":"L34","t":769,"v":30},{"p":"L34","t":777,"v":29},{"p":"L34","t":785,"v":32},{"p":"L34","t":792.9,"v":34},
{"p":"L35","t":676.9,"v":0},{"p":"L35","t":680.5,"v":2},{"p":"L35","t":684,"v":4},{"p":"L35","t":689,"v":7},{"p":"L35","t":695,"v":9},{"p":"L35","t":702,"v":10},{"p":"L35","t":709,"v":9},{"p":"L35","t":722,"v":10},{"p":"L35","t":727,"v":13},{"p":"L35","t":732,"v":17},{"p":"L35","t":738,"v":20},{"p":"L35","t":745,"v":25},{"p":"L35","t":753,"v":22},{"p":"L35","t":761,"v":19},{"p":"L35","t":769,"v":17},{"p":"L35","t":777,"v":16},{"p":"L35","t":785,"v":18},{"p":"L35","t":792.9,"v":19},
{"p":"R00","t":676.9,"v":0},{"p":"R00","t":694,"v":1},{"p":"R00","t":706,"v":2},{"p":"R00","t":714,"v":3},{"p":"R00","t":718,"v":4},{"p":"R00","t":722,"v":5},{"p":"R00","t":725,"v":6},{"p":"R00","t":747,"v":7},{"p":"R00","t":752,"v":8},{"p":"R00","t":757,"v":9},{"p":"R00","t":767,"v":10},{"p":"R00","t":772,"v":11},{"p":"R00","t":782,"v":12},{"p":"R00","t":792.9,"v":13},
{"p":"R01","t":676.9,"v":0},{"p":"R01","t":680,"v":1},{"p":"R01","t":692,"v":2},{"p":"R01","t":696,"v":3},{"p":"R01","t":708,"v":4},{"p":"R01","t":716,"v":6},{"p":"R01","t":723.5,"v":7},{"p":"R01","t":726.5,"v":9},{"p":"R01","t":745,"v":10},{"p":"R01","t":749.5,"v":11},{"p":"R01","t":759.5,"v":12},{"p":"R01","t":764.5,"v":13},{"p":"R01","t":769.5,"v":14},{"p":"R01","t":774.5,"v":15},{"p":"R01","t":784.5,"v":16},{"p":"R01","t":792.9,"v":18},
{"p":"R02","t":676.9,"v":0},{"p":"R02","t":710,"v":1},{"p":"R02","t":712.7,"v":3},{"p":"R02","t":721,"v":2},{"p":"R02","t":726,"v":3},{"p":"R02","t":730,"v":5},{"p":"R02","t":738,"v":6},{"p":"R02","t":748,"v":7},{"p":"R02","t":758,"v":8},{"p":"R02","t":770,"v":9},{"p":"R02","t":782,"v":10},{"p":"R02","t":792.9,"v":11},
{"p":"R03","t":676.9,"v":0},{"p":"R03","t":678,"v":1},{"p":"R03","t":680,"v":2},{"p":"R03","t":683,"v":3},{"p":"R03","t":692.5,"v":4},{"p":"R03","t":701,"v":5},{"p":"R03","t":709,"v":6},{"p":"R03","t":713,"v":8},{"p":"R03","t":721,"v":9},{"p":"R03","t":724,"v":10},{"p":"R03","t":737.5,"v":11},{"p":"R03","t":746,"v":13},{"p":"R03","t":755,"v":14},{"p":"R03","t":760,"v":15},{"p":"R03","t":765,"v":16},{"p":"R03","t":770,"v":17},{"p":"R03","t":780,"v":18},{"p":"R03","t":785,"v":19},{"p":"R03","t":792.9,"v":20},
{"p":"R04","t":676.9,"v":0},{"p":"R04","t":681,"v":3},{"p":"R04","t":685,"v":6},{"p":"R04","t":690,"v":9},{"p":"R04","t":695,"v":12},{"p":"R04","t":700,"v":15},{"p":"R04","t":705,"v":17},{"p":"R04","t":712,"v":20},{"p":"R04","t":718,"v":22},{"p":"R04","t":722,"v":23},{"p":"R04","t":734,"v":24},{"p":"R04","t":737,"v":27},{"p":"R04","t":740,"v":29},{"p":"R04","t":745,"v":28},{"p":"R04","t":750,"v":29},{"p":"R04","t":755,"v":30},{"p":"R04","t":760,"v":31},{"p":"R04","t":765,"v":32},{"p":"R04","t":770,"v":33},{"p":"R04","t":775,"v":34},{"p":"R04","t":780,"v":36},{"p":"R04","t":785,"v":38},{"p":"R04","t":790,"v":39},{"p":"R04","t":792.9,"v":40},
{"p":"R05","t":676.9,"v":0},{"p":"R05","t":679,"v":2},{"p":"R05","t":681,"v":4},{"p":"R05","t":684,"v":5},{"p":"R05","t":690,"v":6},{"p":"R05","t":694,"v":7},{"p":"R05","t":702,"v":8},{"p":"R05","t":706,"v":9},{"p":"R05","t":714,"v":11},{"p":"R05","t":722,"v":12},{"p":"R05","t":725,"v":13},{"p":"R05","t":731,"v":14},{"p":"R05","t":739,"v":15},{"p":"R05","t":747,"v":16},{"p":"R05","t":757,"v":18},{"p":"R05","t":762,"v":19},{"p":"R05","t":767,"v":20},{"p":"R05","t":777,"v":21},{"p":"R05","t":782,"v":22},{"p":"R05","t":787,"v":23},{"p":"R05","t":792.9,"v":25},
{"p":"R06","t":676.9,"v":0},{"p":"R06","t":681,"v":2},{"p":"R06","t":686,"v":5},{"p":"R06","t":690,"v":8},{"p":"R06","t":694,"v":10},{"p":"R06","t":697,"v":12},{"p":"R06","t":700,"v":15},{"p":"R06","t":703,"v":17},{"p":"R06","t":705,"v":18},{"p":"R06","t":708,"v":20},{"p":"R06","t":710,"v":22},{"p":"R06","t":712,"v":24},{"p":"R06","t":714,"v":26},{"p":"R06","t":716,"v":28},{"p":"R06","t":721,"v":29},{"p":"R06","t":725,"v":28},{"p":"R06","t":737,"v":30},{"p":"R06","t":739,"v":32},{"p":"R06","t":742,"v":31},{"p":"R06","t":746,"v":33},{"p":"R06","t":750,"v":34},{"p":"R06","t":755,"v":35},{"p":"R06","t":762,"v":36},{"p":"R06","t":768,"v":37},{"p":"R06","t":772,"v":39},{"p":"R06","t":774,"v":41},{"p":"R06","t":776,"v":43},{"p":"R06","t":778,"v":45},{"p":"R06","t":779,"v":47},{"p":"R06","t":781,"v":46},{"p":"R06","t":792.9,"v":46},
{"p":"R07","t":676.9,"v":0},{"p":"R07","t":680,"v":3},{"p":"R07","t":682.5,"v":5},{"p":"R07","t":685.5,"v":6},{"p":"R07","t":688.5,"v":7},{"p":"R07","t":696,"v":8},{"p":"R07","t":700,"v":9},{"p":"R07","t":704,"v":10},{"p":"R07","t":712,"v":11},{"p":"R07","t":716,"v":13},{"p":"R07","t":726.5,"v":14},{"p":"R07","t":729.5,"v":15},{"p":"R07","t":741,"v":16},{"p":"R07","t":745,"v":17},{"p":"R07","t":749.5,"v":18},{"p":"R07","t":759.5,"v":19},{"p":"R07","t":764.5,"v":21},{"p":"R07","t":769.5,"v":22},{"p":"R07","t":779.5,"v":23},{"p":"R07","t":784.5,"v":25},{"p":"R07","t":790,"v":26},{"p":"R07","t":792.9,"v":28},
{"p":"R08","t":676.9,"v":0},{"p":"R08","t":678,"v":2},{"p":"R08","t":680,"v":5},{"p":"R08","t":683,"v":7},{"p":"R08","t":686,"v":8},{"p":"R08","t":689,"v":9},{"p":"R08","t":697,"v":10},{"p":"R08","t":701,"v":12},{"p":"R08","t":709,"v":13},{"p":"R08","t":713,"v":14},{"p":"R08","t":721,"v":15},{"p":"R08","t":724,"v":16},{"p":"R08","t":727,"v":17},{"p":"R08","t":737.5,"v":18},{"p":"R08","t":741.5,"v":19},{"p":"R08","t":746,"v":20},{"p":"R08","t":750,"v":19},{"p":"R08","t":770,"v":20},{"p":"R08","t":775,"v":21},{"p":"R08","t":785,"v":22},{"p":"R08","t":792.9,"v":23},
{"p":"R09","t":676.9,"v":0},{"p":"R09","t":700,"v":1},{"p":"R09","t":710,"v":2},{"p":"R09","t":720,"v":3},{"p":"R09","t":730,"v":4},{"p":"R09","t":748,"v":5},{"p":"R09","t":752,"v":4},{"p":"R09","t":762,"v":6},{"p":"R09","t":776,"v":5},{"p":"R09","t":786,"v":8},{"p":"R09","t":792.9,"v":9},
{"p":"R10","t":676.9,"v":0},{"p":"R10","t":682,"v":4},{"p":"R10","t":690,"v":8},{"p":"R10","t":700,"v":12},{"p":"R10","t":710,"v":16},{"p":"R10","t":720,"v":20},{"p":"R10","t":730,"v":22},{"p":"R10","t":740,"v":25},{"p":"R10","t":748,"v":28},{"p":"R10","t":752,"v":30},{"p":"R10","t":760,"v":32},{"p":"R10","t":766,"v":33},{"p":"R10","t":770,"v":35},{"p":"R10","t":774,"v":37},{"p":"R10","t":776,"v":40},{"p":"R10","t":778,"v":43},{"p":"R10","t":780,"v":45},{"p":"R10","t":786,"v":46},{"p":"R10","t":790,"v":45},{"p":"R10","t":792.9,"v":44},
{"p":"R11","t":676.9,"v":0},{"p":"R11","t":679,"v":4},{"p":"R11","t":681,"v":7},{"p":"R11","t":684,"v":9},{"p":"R11","t":687,"v":10},{"p":"R11","t":690,"v":11},{"p":"R11","t":698,"v":13},{"p":"R11","t":702,"v":14},{"p":"R11","t":706,"v":15},{"p":"R11","t":710,"v":16},{"p":"R11","t":714,"v":17},{"p":"R11","t":722,"v":18},{"p":"R11","t":728,"v":19},{"p":"R11","t":735,"v":20},{"p":"R11","t":739,"v":21},{"p":"R11","t":743,"v":22},{"p":"R11","t":747,"v":23},{"p":"R11","t":757,"v":25},{"p":"R11","t":762,"v":26},{"p":"R11","t":767,"v":27},{"p":"R11","t":777,"v":29},{"p":"R11","t":782,"v":30},{"p":"R11","t":787,"v":32},{"p":"R11","t":792.9,"v":34},
{"p":"R12","t":676.9,"v":0},{"p":"R12","t":685,"v":5},{"p":"R12","t":695,"v":10},{"p":"R12","t":705,"v":14},{"p":"R12","t":715,"v":17},{"p":"R12","t":725,"v":19},{"p":"R12","t":735,"v":22},{"p":"R12","t":745,"v":25},{"p":"R12","t":755,"v":28},{"p":"R12","t":765,"v":31},{"p":"R12","t":772,"v":33},{"p":"R12","t":778,"v":35},{"p":"R12","t":784,"v":36},{"p":"R12","t":788,"v":37},{"p":"R12","t":792.9,"v":38},
{"p":"R13","t":676.9,"v":0},{"p":"R13","t":680,"v":4},{"p":"R13","t":682.5,"v":7},{"p":"R13","t":685.5,"v":9},{"p":"R13","t":688.5,"v":11},{"p":"R13","t":692,"v":12},{"p":"R13","t":696,"v":13},{"p":"R13","t":700,"v":14},{"p":"R13","t":704,"v":16},{"p":"R13","t":708,"v":17},{"p":"R13","t":712,"v":18},{"p":"R13","t":716,"v":19},{"p":"R13","t":723.5,"v":20},{"p":"R13","t":733,"v":21},{"p":"R13","t":737,"v":22},{"p":"R13","t":741,"v":24},{"p":"R13","t":745,"v":25},{"p":"R13","t":754.5,"v":27},{"p":"R13","t":759.5,"v":28},{"p":"R13","t":764.5,"v":29},{"p":"R13","t":769.5,"v":30},{"p":"R13","t":774.5,"v":31},{"p":"R13","t":779.5,"v":33},{"p":"R13","t":784.5,"v":34},{"p":"R13","t":790,"v":35},{"p":"R13","t":792.9,"v":37},
{"p":"R14","t":676.9,"v":0},{"p":"R14","t":692.5,"v":1},{"p":"R14","t":701,"v":2},{"p":"R14","t":709,"v":3},{"p":"R14","t":713,"v":4},{"p":"R14","t":717,"v":5},{"p":"R14","t":721,"v":6},{"p":"R14","t":724,"v":7},{"p":"R14","t":727,"v":8},{"p":"R14","t":730,"v":9},{"p":"R14","t":733.5,"v":10},{"p":"R14","t":737.5,"v":12},{"p":"R14","t":741.5,"v":14},{"p":"R14","t":746,"v":16},{"p":"R14","t":750,"v":17},{"p":"R14","t":755,"v":19},{"p":"R14","t":760,"v":21},{"p":"R14","t":765,"v":23},{"p":"R14","t":770,"v":24},{"p":"R14","t":775,"v":26},{"p":"R14","t":780,"v":28},{"p":"R14","t":785,"v":30},{"p":"R14","t":792.9,"v":32},
{"p":"R15","t":676.9,"v":0},{"p":"R15","t":679,"v":4},{"p":"R15","t":681,"v":6},{"p":"R15","t":684,"v":8},{"p":"R15","t":687,"v":9},{"p":"R15","t":690,"v":10},{"p":"R15","t":698,"v":11},{"p":"R15","t":702,"v":12},{"p":"R15","t":706,"v":13},{"p":"R15","t":714,"v":14},{"p":"R15","t":718,"v":13},{"p":"R15","t":735,"v":12},{"p":"R15","t":752,"v":11},{"p":"R15","t":767,"v":10},{"p":"R15","t":772,"v":11},{"p":"R15","t":787,"v":12},{"p":"R15","t":792.9,"v":13},
{"p":"R16","t":676.9,"v":0},{"p":"R16","t":700,"v":1},{"p":"R16","t":712,"v":2},{"p":"R16","t":720,"v":3},{"p":"R16","t":730,"v":4},{"p":"R16","t":736,"v":3},{"p":"R16","t":740,"v":4},{"p":"R16","t":746,"v":3},{"p":"R16","t":749,"v":5},{"p":"R16","t":755,"v":6},{"p":"R16","t":762,"v":7},{"p":"R16","t":770,"v":8},{"p":"R16","t":780,"v":9},{"p":"R16","t":792.9,"v":10},
{"p":"R17","t":676.9,"v":0},{"p":"R17","t":680,"v":2},{"p":"R17","t":682.5,"v":3},{"p":"R17","t":685.5,"v":4},{"p":"R17","t":692,"v":5},{"p":"R17","t":696,"v":6},{"p":"R17","t":704,"v":7},{"p":"R17","t":708,"v":8},{"p":"R17","t":716,"v":10},{"p":"R17","t":723.5,"v":11},{"p":"R17","t":726.5,"v":12},{"p":"R17","t":737,"v":13},{"p":"R17","t":745,"v":14},{"p":"R17","t":749.5,"v":15},{"p":"R17","t":759.5,"v":16},{"p":"R17","t":764.5,"v":17},{"p":"R17","t":769.5,"v":18},{"p":"R17","t":774.5,"v":19},{"p":"R17","t":784.5,"v":20},{"p":"R17","t":790,"v":21},{"p":"R17","t":792.9,"v":23},
{"p":"R18","t":676.9,"v":0},{"p":"R18","t":689,"v":1},{"p":"R18","t":697,"v":2},{"p":"R18","t":709,"v":3},{"p":"R18","t":713,"v":4},{"p":"R18","t":717,"v":5},{"p":"R18","t":721,"v":6},{"p":"R18","t":724,"v":7},{"p":"R18","t":741.5,"v":8},{"p":"R18","t":746,"v":9},{"p":"R18","t":750,"v":10},{"p":"R18","t":755,"v":11},{"p":"R18","t":760,"v":12},{"p":"R18","t":765,"v":13},{"p":"R18","t":770,"v":14},{"p":"R18","t":780,"v":15},{"p":"R18","t":785,"v":16},{"p":"R18","t":792.9,"v":17},
{"p":"R19","t":676.9,"v":0},{"p":"R19","t":692,"v":1},{"p":"R19","t":707,"v":2},{"p":"R19","t":713,"v":3},{"p":"R19","t":719,"v":5},{"p":"R19","t":726,"v":6},{"p":"R19","t":744,"v":7},{"p":"R19","t":749,"v":8},{"p":"R19","t":755,"v":9},{"p":"R19","t":761,"v":10},{"p":"R19","t":767,"v":11},{"p":"R19","t":773,"v":12},{"p":"R19","t":785,"v":13},{"p":"R19","t":792.9,"v":14},
{"p":"R20","t":676.9,"v":0},{"p":"R20","t":679.5,"v":2},{"p":"R20","t":682,"v":3},{"p":"R20","t":688,"v":4},{"p":"R20","t":696,"v":5},{"p":"R20","t":701,"v":6},{"p":"R20","t":713,"v":8},{"p":"R20","t":719,"v":9},{"p":"R20","t":723,"v":10},{"p":"R20","t":726,"v":11},{"p":"R20","t":740,"v":12},{"p":"R20","t":744,"v":13},{"p":"R20","t":749,"v":14},{"p":"R20","t":755,"v":15},{"p":"R20","t":761,"v":16},{"p":"R20","t":767,"v":17},{"p":"R20","t":779,"v":19},{"p":"R20","t":785,"v":20},{"p":"R20","t":792.9,"v":21},
{"p":"R21","t":676.9,"v":0},{"p":"R21","t":679.5,"v":3},{"p":"R21","t":682,"v":5},{"p":"R21","t":685,"v":6},{"p":"R21","t":692,"v":7},{"p":"R21","t":696,"v":8},{"p":"R21","t":701,"v":9},{"p":"R21","t":707,"v":10},{"p":"R21","t":713,"v":11},{"p":"R21","t":719,"v":12},{"p":"R21","t":723,"v":13},{"p":"R21","t":726,"v":14},{"p":"R21","t":732,"v":15},{"p":"R21","t":740,"v":16},{"p":"R21","t":749,"v":17},{"p":"R21","t":755,"v":18},{"p":"R21","t":761,"v":20},{"p":"R21","t":767,"v":21},{"p":"R21","t":779,"v":23},{"p":"R21","t":785,"v":24},{"p":"R21","t":792.9,"v":26},
{"p":"R22","t":676.9,"v":0},{"p":"R22","t":682,"v":1},{"p":"R22","t":696,"v":2},{"p":"R22","t":707,"v":3},{"p":"R22","t":713,"v":4},{"p":"R22","t":719,"v":6},{"p":"R22","t":723,"v":7},{"p":"R22","t":729,"v":8},{"p":"R22","t":744,"v":9},{"p":"R22","t":749,"v":10},{"p":"R22","t":755,"v":11},{"p":"R22","t":761,"v":12},{"p":"R22","t":767,"v":13},{"p":"R22","t":773,"v":14},{"p":"R22","t":785,"v":15},{"p":"R22","t":792.9,"v":16},
{"p":"R23","t":676.9,"v":0},{"p":"R23","t":679.5,"v":1},{"p":"R23","t":682,"v":2},{"p":"R23","t":692,"v":3},{"p":"R23","t":701,"v":4},{"p":"R23","t":713,"v":6},{"p":"R23","t":719,"v":7},{"p":"R23","t":723,"v":8},{"p":"R23","t":726,"v":9},{"p":"R23","t":736,"v":10},{"p":"R23","t":744,"v":11},{"p":"R23","t":749,"v":12},{"p":"R23","t":755,"v":13},{"p":"R23","t":761,"v":14},{"p":"R23","t":767,"v":15},{"p":"R23","t":779,"v":16},{"p":"R23","t":785,"v":17},{"p":"R23","t":792.9,"v":18},
{"p":"R24","t":676.9,"v":0},{"p":"R24","t":679.5,"v":4},{"p":"R24","t":682,"v":6},{"p":"R24","t":685,"v":7},{"p":"R24","t":688,"v":8},{"p":"R24","t":692,"v":9},{"p":"R24","t":696,"v":10},{"p":"R24","t":701,"v":11},{"p":"R24","t":707,"v":12},{"p":"R24","t":713,"v":13},{"p":"R24","t":719,"v":14},{"p":"R24","t":723,"v":15},{"p":"R24","t":726,"v":16},{"p":"R24","t":729,"v":17},{"p":"R24","t":736,"v":18},{"p":"R24","t":740,"v":19},{"p":"R24","t":744,"v":20},{"p":"R24","t":749,"v":21},{"p":"R24","t":755,"v":22},{"p":"R24","t":761,"v":23},{"p":"R24","t":767,"v":24},{"p":"R24","t":779,"v":26},{"p":"R24","t":785,"v":27},{"p":"R24","t":792.9,"v":30},
{"p":"R25","t":676.9,"v":0},{"p":"R25","t":696,"v":1},{"p":"R25","t":707,"v":2},{"p":"R25","t":713,"v":3},{"p":"R25","t":719,"v":4},{"p":"R25","t":723,"v":5},{"p":"R25","t":726,"v":6},{"p":"R25","t":732,"v":7},{"p":"R25","t":736,"v":8},{"p":"R25","t":740,"v":9},{"p":"R25","t":744,"v":10},{"p":"R25","t":749,"v":11},{"p":"R25","t":755,"v":13},{"p":"R25","t":761,"v":14},{"p":"R25","t":767,"v":16},{"p":"R25","t":773,"v":17},{"p":"R25","t":779,"v":18},{"p":"R25","t":785,"v":20},{"p":"R25","t":792.9,"v":21},
{"p":"R26","t":676.9,"v":0},{"p":"R26","t":679.5,"v":2},{"p":"R26","t":682,"v":4},{"p":"R26","t":685,"v":5},{"p":"R26","t":692,"v":6},{"p":"R26","t":701,"v":7},{"p":"R26","t":707,"v":8},{"p":"R26","t":713,"v":9},{"p":"R26","t":719,"v":10},{"p":"R26","t":723,"v":11},{"p":"R26","t":729,"v":12},{"p":"R26","t":736,"v":13},{"p":"R26","t":744,"v":14},{"p":"R26","t":749,"v":15},{"p":"R26","t":755,"v":16},{"p":"R26","t":761,"v":17},{"p":"R26","t":767,"v":18},{"p":"R26","t":773,"v":19},{"p":"R26","t":779,"v":20},{"p":"R26","t":785,"v":21},{"p":"R26","t":792.9,"v":23},
{"p":"R27","t":676.9,"v":0},{"p":"R27","t":695,"v":1},{"p":"R27","t":702,"v":2},{"p":"R27","t":716,"v":4},{"p":"R27","t":722,"v":5},{"p":"R27","t":727,"v":6},{"p":"R27","t":732,"v":7},{"p":"R27","t":753,"v":9},{"p":"R27","t":761,"v":11},{"p":"R27","t":769,"v":12},{"p":"R27","t":777,"v":13},{"p":"R27","t":785,"v":14},{"p":"R27","t":792.9,"v":15},
{"p":"R28","t":676.9,"v":0},{"p":"R28","t":680.5,"v":1},{"p":"R28","t":684,"v":2},{"p":"R28","t":695,"v":3},{"p":"R28","t":702,"v":4},{"p":"R28","t":709,"v":5},{"p":"R28","t":716,"v":7},{"p":"R28","t":722,"v":8},{"p":"R28","t":727,"v":9},{"p":"R28","t":738,"v":10},{"p":"R28","t":753,"v":12},{"p":"R28","t":761,"v":13},{"p":"R28","t":769,"v":15},{"p":"R28","t":777,"v":16},{"p":"R28","t":785,"v":17},{"p":"R28","t":792.9,"v":18},
{"p":"R29","t":676.9,"v":0},{"p":"R29","t":680.5,"v":3},{"p":"R29","t":684,"v":4},{"p":"R29","t":689,"v":5},{"p":"R29","t":695,"v":6},{"p":"R29","t":702,"v":7},{"p":"R29","t":709,"v":8},{"p":"R29","t":716,"v":10},{"p":"R29","t":722,"v":11},{"p":"R29","t":727,"v":12},{"p":"R29","t":738,"v":13},{"p":"R29","t":745,"v":14},{"p":"R29","t":753,"v":15},{"p":"R29","t":761,"v":17},{"p":"R29","t":769,"v":19},{"p":"R29","t":777,"v":20},{"p":"R29","t":785,"v":21},{"p":"R29","t":792.9,"v":24},
{"p":"R30","t":676.9,"v":0},{"p":"R30","t":680.5,"v":1},{"p":"R30","t":695,"v":2},{"p":"R30","t":702,"v":3},{"p":"R30","t":709,"v":4},{"p":"R30","t":716,"v":6},{"p":"R30","t":722,"v":7},{"p":"R30","t":727,"v":8},{"p":"R30","t":745,"v":9},{"p":"R30","t":753,"v":10},{"p":"R30","t":761,"v":12},{"p":"R30","t":769,"v":14},{"p":"R30","t":777,"v":15},{"p":"R30","t":792.9,"v":17},
{"p":"R31","t":676.9,"v":0},{"p":"R31","t":680.5,"v":2},{"p":"R31","t":684,"v":3},{"p":"R31","t":689,"v":4},{"p":"R31","t":695,"v":5},{"p":"R31","t":702,"v":6},{"p":"R31","t":709,"v":7},{"p":"R31","t":716,"v":9},{"p":"R31","t":722,"v":10},{"p":"R31","t":732,"v":11},{"p":"R31","t":738,"v":12},{"p":"R31","t":753,"v":14},{"p":"R31","t":761,"v":15},{"p":"R31","t":769,"v":17},{"p":"R31","t":777,"v":18},{"p":"R31","t":785,"v":19},{"p":"R31","t":792.9,"v":21},
{"p":"R32","t":676.9,"v":0},{"p":"R32","t":695,"v":1},{"p":"R32","t":709,"v":2},{"p":"R32","t":716,"v":3},{"p":"R32","t":722,"v":4},{"p":"R32","t":727,"v":5},{"p":"R32","t":732,"v":6},{"p":"R32","t":753,"v":8},{"p":"R32","t":761,"v":9},{"p":"R32","t":769,"v":10},{"p":"R32","t":777,"v":11},{"p":"R32","t":785,"v":12},{"p":"R32","t":792.9,"v":13},
{"p":"R33","t":676.9,"v":0},{"p":"R33","t":680.5,"v":4},{"p":"R33","t":684,"v":6},{"p":"R33","t":689,"v":7},{"p":"R33","t":695,"v":8},{"p":"R33","t":702,"v":10},{"p":"R33","t":709,"v":12},{"p":"R33","t":716,"v":13},{"p":"R33","t":722,"v":14},{"p":"R33","t":727,"v":15},{"p":"R33","t":732,"v":16},{"p":"R33","t":738,"v":17},{"p":"R33","t":745,"v":18},{"p":"R33","t":753,"v":19},{"p":"R33","t":761,"v":21},{"p":"R33","t":769,"v":22},{"p":"R33","t":777,"v":24},{"p":"R33","t":785,"v":26},{"p":"R33","t":792.9,"v":29},
{"p":"R34","t":676.9,"v":0},{"p":"R34","t":684,"v":1},{"p":"R34","t":695,"v":2},{"p":"R34","t":702,"v":3},{"p":"R34","t":709,"v":4},{"p":"R34","t":716,"v":6},{"p":"R34","t":722,"v":7},{"p":"R34","t":727,"v":8},{"p":"R34","t":732,"v":9},{"p":"R34","t":738,"v":10},{"p":"R34","t":745,"v":12},{"p":"R34","t":753,"v":14},{"p":"R34","t":761,"v":17},{"p":"R34","t":769,"v":19},{"p":"R34","t":777,"v":20},{"p":"R34","t":785,"v":22},{"p":"R34","t":792.9,"v":24},
{"p":"R35","t":676.9,"v":0},{"p":"R35","t":680.5,"v":3},{"p":"R35","t":684,"v":5},{"p":"R35","t":689,"v":6},{"p":"R35","t":695,"v":7},{"p":"R35","t":702,"v":9},{"p":"R35","t":709,"v":10},{"p":"R35","t":716,"v":11},{"p":"R35","t":727,"v":12},{"p":"R35","t":769,"v":13},{"p":"R35","t":785,"v":14},{"p":"R35","t":792.9,"v":15},
{"p":"R36","t":676.9,"v":0},{"p":"R36","t":680.5,"v":1},{"p":"R36","t":684,"v":2},{"p":"R36","t":689,"v":3},{"p":"R36","t":702,"v":5},{"p":"R36","t":716,"v":7},{"p":"R36","t":722,"v":8},{"p":"R36","t":727,"v":9},{"p":"R36","t":732,"v":10},{"p":"R36","t":745,"v":11},{"p":"R36","t":753,"v":12},{"p":"R36","t":761,"v":14},{"p":"R36","t":769,"v":15},{"p":"R36","t":777,"v":17},{"p":"R36","t":785,"v":18},{"p":"R36","t":792.9,"v":19}
]
},
"hconcat": [
{
 "width": 499, "height": 342,
 "encoding": {
  "x": {"field": "t", "type": "quantitative", "scale": {"domain": [671.1, 798.7], "nice": false, "zero": false}, "axis": {"values": [675,690,705,720,735,750,765,780,795], "labelExpr": "floor(datum.value/60) + ':' + (datum.value%60 < 10 ? '0' : '') + (datum.value%60)", "title": "Time [hour:min]", "grid": true}},
  "y": {"field": "v", "type": "quantitative", "scale": {"domain": [-1.95, 47.95], "nice": false, "zero": false}, "axis": {"values": [0,10,20,30,40], "title": "Number of patients", "grid": true}}
 },
 "layer": [
  {"data": {"name": "paths"}, "transform": [{"filter": "indexof(datum.p,'L')==0"}], "mark": {"type": "line", "interpolate": "step-after", "strokeWidth": 1.3, "opacity": 0.55}, "encoding": {"stroke": {"field": "p", "type": "nominal", "scale": {"scheme": "category10"}, "legend": null}}},
  {"data": {"name": "actual"}, "mark": {"type": "line", "interpolate": "step-after", "strokeWidth": 2}, "encoding": {
   "color": {"field": "s", "type": "nominal", "scale": {"domain": ["act","95","50"], "range": ["#000000","#0000ff","#ff0000"]}, "legend": {"title": null, "orient": "none", "legendX": 11, "legendY": 10, "symbolType": "stroke", "symbolSize": 1100, "symbolStrokeWidth": 2.2, "clipHeight": 18, "labelFont": "Liberation Sans", "labelFontSize": 18, "labelColor": "#262626", "labelOffset": 19, "labelLimit": 400, "rowPadding": 9.5, "padding": 7, "fillColor": "rgba(255,255,255,0.8)", "strokeColor": "#cccccc", "cornerRadius": 4, "labelExpr": "datum.label == 'act' ? 'Actual sample path' : datum.label == '95' ? '95% confidence band (α\u2004=\u20040.05)' : '50% confidence band (α\u2004=\u20040.5)'"}},
   "strokeDash": {"field": "s", "type": "nominal", "scale": {"domain": ["act","95","50"], "range": [[1,0],[2,3.3],[9,3,2.5,3]]}, "legend": {"title": null, "orient": "none", "legendX": 11, "legendY": 10, "symbolType": "stroke", "symbolSize": 1100, "symbolStrokeWidth": 2.2, "clipHeight": 18, "labelFont": "Liberation Sans", "labelFontSize": 18, "labelColor": "#262626", "labelOffset": 19, "labelLimit": 400, "rowPadding": 9.5, "padding": 7, "fillColor": "rgba(255,255,255,0.8)", "strokeColor": "#cccccc", "cornerRadius": 4, "labelExpr": "datum.label == 'act' ? 'Actual sample path' : datum.label == '95' ? '95% confidence band (α\u2004=\u20040.05)' : '50% confidence band (α\u2004=\u20040.5)'"}}
  }},
  {"data": {"name": "bands"}, "transform": [{"filter": "datum.g == 'L'"}], "mark": {"type": "line", "strokeWidth": 2.5}, "encoding": {
   "color": {"field": "s", "type": "nominal", "scale": {"domain": ["act","95","50"], "range": ["#000000","#0000ff","#ff0000"]}},
   "strokeDash": {"field": "s", "type": "nominal", "scale": {"domain": ["act","95","50"], "range": [[1,0],[2,3.3],[9,3,2.5,3]]}},
   "detail": {"field": "b"}
  }}
 ]
},
{
 "width": 499, "height": 342,
 "encoding": {
  "x": {"field": "t", "type": "quantitative", "scale": {"domain": [671.1, 798.7], "nice": false, "zero": false}, "axis": {"values": [675,690,705,720,735,750,765,780,795], "labelExpr": "floor(datum.value/60) + ':' + (datum.value%60 < 10 ? '0' : '') + (datum.value%60)", "title": "Time [hour:min]", "grid": true}},
  "y": {"field": "v", "type": "quantitative", "scale": {"domain": [-1.95, 47.95], "nice": false, "zero": false}, "axis": {"values": [0,10,20,30,40], "title": "Number of patients", "grid": true}}
 },
 "layer": [
  {"data": {"name": "paths"}, "transform": [{"filter": "indexof(datum.p,'R')==0"}], "mark": {"type": "line", "interpolate": "step-after", "strokeWidth": 1.3, "opacity": 0.55}, "encoding": {"stroke": {"field": "p", "type": "nominal", "scale": {"scheme": "category10"}, "legend": null}}},
  {"data": {"name": "actual"}, "mark": {"type": "line", "interpolate": "step-after", "strokeWidth": 2}, "encoding": {
   "color": {"field": "s", "type": "nominal", "scale": {"domain": ["act","95","50"], "range": ["#000000","#0000ff","#ff0000"]}, "legend": null},
   "strokeDash": {"field": "s", "type": "nominal", "scale": {"domain": ["act","95","50"], "range": [[1,0],[2,3.3],[9,3,2.5,3]]}, "legend": null}
  }},
  {"data": {"name": "bands"}, "transform": [{"filter": "datum.g == 'R'"}], "mark": {"type": "line", "strokeWidth": 2.5}, "encoding": {
   "color": {"field": "s", "type": "nominal", "scale": {"domain": ["act","95","50"], "range": ["#000000","#0000ff","#ff0000"]}, "legend": null},
   "strokeDash": {"field": "s", "type": "nominal", "scale": {"domain": ["act","95","50"], "range": [[1,0],[2,3.3],[9,3,2.5,3]]}, "legend": null},
   "detail": {"field": "b"}
  }}
 ]
}
]
}
